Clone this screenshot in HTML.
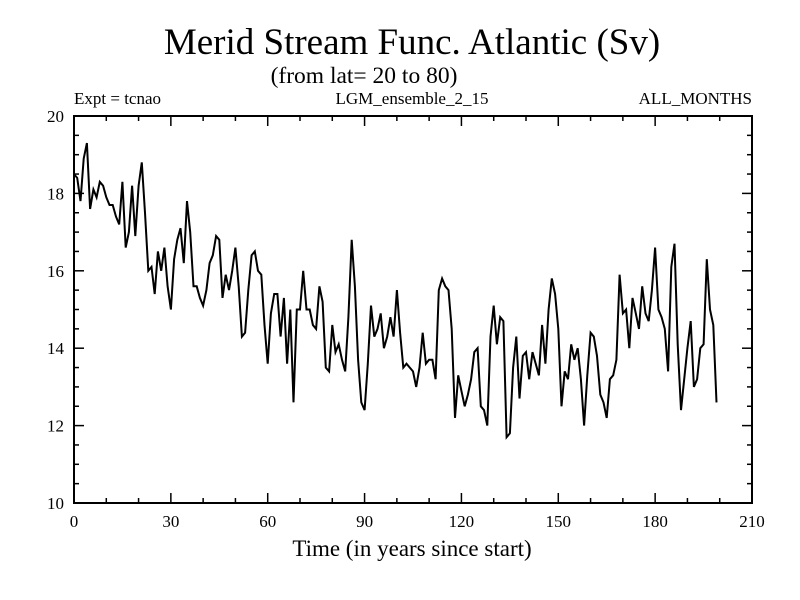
<!DOCTYPE html>
<html><head><meta charset="utf-8"><style>
body{margin:0;background:#fff;}
svg{display:block;font-family:"Liberation Serif",serif;}
</style></head><body>
<svg id="chart" width="800" height="600">
<text x="412" y="54" font-size="37" text-anchor="middle">Merid Stream Func. Atlantic (Sv)</text>
<text x="364" y="83" font-size="23.5" text-anchor="middle">(from lat= 20 to 80)</text>
<text x="74" y="104" font-size="17">Expt = tcnao</text>
<text x="412" y="104" font-size="17" text-anchor="middle">LGM_ensemble_2_15</text>
<text x="752" y="104" font-size="17" text-anchor="end">ALL_MONTHS</text>
<text x="412" y="556" font-size="23" text-anchor="middle">Time (in years since start)</text>
<g id="ticks"></g>
<polyline id="line" fill="none" stroke="#000" stroke-width="2"/>
<rect x="74" y="116" width="678" height="387" fill="none" stroke="#000" stroke-width="2"/>
</svg>
<script>
const values = [18.5,18.4,17.8,18.9,19.3,17.6,18.1,17.9,18.3,18.2,17.9,17.7,17.7,17.4,17.2,18.3,16.6,17.0,18.2,16.9,
18.2,18.8,17.5,16.0,16.1,15.4,16.5,16.0,16.6,15.6,15.0,16.3,16.8,17.1,16.2,17.8,17.0,15.6,15.6,15.3,
15.1,15.5,16.2,16.4,16.9,16.8,15.3,15.9,15.5,16.0,16.6,15.6,14.3,14.4,15.5,16.4,16.5,16.0,15.9,14.6,
13.6,14.9,15.4,15.4,14.3,15.3,13.6,15.0,12.6,15.0,15.0,16.0,15.0,15.0,14.6,14.5,15.6,15.2,13.5,13.4,
14.6,13.9,14.1,13.7,13.4,14.8,16.8,15.6,13.7,12.6,12.4,13.6,15.1,14.3,14.5,14.9,14.0,14.3,14.8,14.3,
15.5,14.4,13.5,13.6,13.5,13.4,13.0,13.5,14.4,13.6,13.7,13.7,13.2,15.5,15.8,15.6,15.5,14.5,12.2,13.3,
12.9,12.5,12.8,13.2,13.9,14.0,12.5,12.4,12.0,14.3,15.1,14.1,14.8,14.7,11.7,11.8,13.5,14.3,12.7,13.8,
13.9,13.2,13.9,13.6,13.3,14.6,13.6,15.0,15.8,15.4,14.5,12.5,13.4,13.2,14.1,13.7,14.0,13.2,12.0,13.3,
14.4,14.3,13.8,12.8,12.6,12.2,13.2,13.3,13.7,15.9,14.9,15.0,14.0,15.3,14.9,14.5,15.6,14.9,14.7,15.5,
16.6,15.0,14.8,14.5,13.4,16.1,16.7,14.1,12.4,13.2,14.0,14.7,13.0,13.2,14.0,14.1,16.3,15.0,14.6,12.6];
const xTicks = [0,30,60,90,120,150,180,210];
const yTicks = [10,12,14,16,18,20];
const L=74,R=752,T=116,B=503;
const sx = t => L + (t-0)/(210-0)*(R-L);
const sy = v => B - (v-10)/(20-10)*(B-T);
const NS="http://www.w3.org/2000/svg";
const g=document.getElementById('ticks');
function ln(x1,y1,x2,y2,name){
  const l=document.createElementNS(NS,'line');
  l.setAttribute('x1',x1);l.setAttribute('y1',y1);l.setAttribute('x2',x2);l.setAttribute('y2',y2);
  l.setAttribute('stroke','#000');l.setAttribute('stroke-width','1.5');
  
  
  g.appendChild(l);
}
function tx(x,y,s,anchor,name){
  const t=document.createElementNS(NS,'text');
  t.setAttribute('x',x);t.setAttribute('y',y);t.setAttribute('font-size','17');t.setAttribute('text-anchor',anchor);
  t.textContent=s;
  
  
  g.appendChild(t);
}
for(let t=0;t<=210;t+=10){
  const major=t%30===0, len=major?10:5, x=sx(t);
  ln(x,B,x,B-len,'x-tick');
  ln(x,T,x,T+len,'x-tick-top');
}
for(let v=10;v<=20.001;v+=0.5){
  const major=Math.abs(v%2)<1e-6, len=major?10:5, y=sy(v);
  ln(L,y,L+len,y,'y-tick');
  ln(R,y,R-len,y,'y-tick-right');
}
xTicks.forEach(t=>tx(sx(t),B+24,String(t),'middle','x-tick-label'));
yTicks.forEach(v=>tx(L-10,sy(v)+6,String(v),'end','y-tick-label'));
document.getElementById('line').setAttribute('points',values.map((v,i)=>sx(i).toFixed(1)+','+sy(v).toFixed(1)).join(' '));
</script>
</body></html>
